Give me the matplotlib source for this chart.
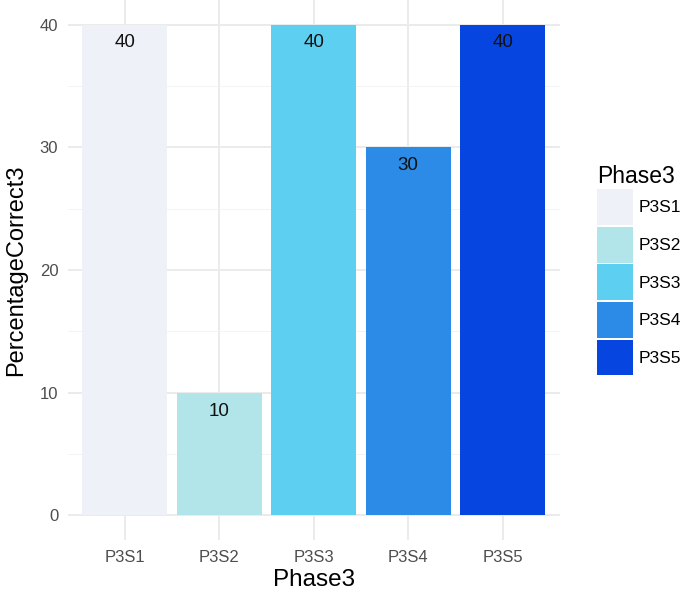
import matplotlib
matplotlib.use('agg')
import matplotlib.pyplot as plt
from matplotlib.patches import Patch

plt.rcParams['font.family'] = ['Liberation Sans', 'DejaVu Sans']

phases = ['P3S1', 'P3S2', 'P3S3', 'P3S4', 'P3S5']
percent = [40, 10, 40, 30, 40]
colors = ['#EEF1F7', '#B2E5EA', '#5DCFF0', '#2C8BE6', '#0745E0']

fig = plt.figure(figsize=(6.85, 5.95), dpi=100)
ax = fig.add_axes([0.0993, 0.0924, 0.7175, 0.9076])

x = list(range(1, len(phases) + 1))
ax.bar(x, percent, width=0.9, color=colors, zorder=2)

# value labels just inside the bar tops
for xi, v in zip(x, percent):
    ax.text(xi, v - 1.5, str(v), ha='center', va='center', fontsize=13.5, color='#111111', zorder=3)

ax.set_xlim(0.4, 5.6)
ax.set_ylim(-2, 42)
ax.set_xticks(x)
ax.set_xticklabels(phases)
ax.set_yticks([0, 10, 20, 30, 40])
ax.set_yticks([5, 15, 25, 35], minor=True)

# ggplot minimal style grid
ax.grid(which='major', color='#EBEBEB', linewidth=1.4, zorder=0)
ax.grid(which='minor', axis='y', color='#F3F3F3', linewidth=0.7, zorder=0)
for s in ax.spines.values():
    s.set_visible(False)
ax.tick_params(which='both', length=0, colors='#4D4D4D', labelsize=12, pad=7)

ax.set_xlabel('Phase3', fontsize=17.5, color='black', labelpad=3)
ax.set_ylabel('PercentageCorrect3', fontsize=17, color='black', labelpad=9)

handles = [Patch(facecolor=c, edgecolor='none') for c in colors]
leg = ax.legend(handles, phases, title='Phase3', loc='center left',
                bbox_to_anchor=(1.063, 0.5), frameon=False, fontsize=12.5,
                title_fontsize=16.5, handlelength=2.07, handleheight=2.8,
                handletextpad=0.3, labelspacing=0.1, borderaxespad=0)
leg._legend_box.align = 'left'

fig.savefig('out.png', dpi=100)
